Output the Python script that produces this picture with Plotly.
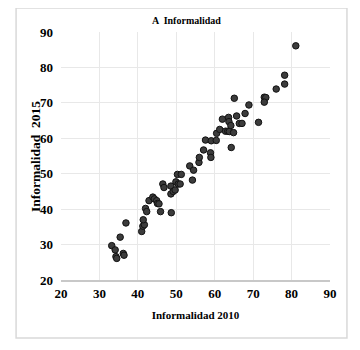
import plotly.graph_objects as go

informalidad_2010 = [
    33.2, 34.1, 34.3, 34.5, 36.2, 36.4, 35.4, 36.9, 41.0, 41.3,
    41.7, 41.4, 42.0, 42.3, 42.9, 43.9, 44.3, 44.9, 45.1, 45.5,
    45.9, 46.5, 46.8, 48.7, 48.6, 48.6, 49.2, 49.7, 49.9, 50.5,
    51.0, 50.3, 51.3, 53.5, 54.5, 54.2, 55.9, 56.0, 57.1, 57.6,
    59.1, 60.4, 58.9, 59.0, 60.5, 61.3, 62.0, 62.8, 63.4, 63.8,
    63.6, 63.7, 64.2, 64.9, 64.3, 65.1, 65.7, 66.4, 67.1, 67.9,
    68.9, 71.4, 72.9, 73.3, 72.9, 76.0, 78.2, 78.2, 81.1,
]
informalidad_2015 = [
    29.7, 28.5, 26.6, 26.1, 27.5, 27.0, 32.1, 36.1, 33.7, 35.2,
    35.6, 37.0, 40.2, 39.3, 42.4, 43.4, 42.9, 42.4, 41.6, 41.5,
    39.3, 47.1, 46.1, 39.0, 44.3, 46.5, 45.0, 45.4, 47.7, 47.1,
    47.1, 49.8, 49.8, 52.2, 51.0, 48.2, 53.2, 54.6, 56.7, 59.5,
    59.3, 59.4, 55.9, 54.6, 61.4, 62.5, 65.4, 62.0, 62.0, 61.9,
    65.9, 64.7, 63.6, 61.6, 57.4, 71.3, 66.3, 64.2, 64.2, 67.0,
    69.4, 64.5, 71.6, 71.5, 70.2, 73.9, 77.8, 75.3, 86.1,
]
tick_values = [20, 30, 40, 50, 60, 70, 80, 90]

title_text = "A  Informalidad"
x_title = "Informalidad 2010"
y_title = "Informalidad  2015"

font_family = "Liberation Serif, Times New Roman, serif"

fig = go.Figure()
fig.add_trace(go.Scatter(
    x=informalidad_2010,
    y=informalidad_2015,
    mode="markers",
    marker=dict(size=6.5, color="#3c3c3c", line=dict(color="#111111", width=1)),
    showlegend=False,
))

annotations = [
    dict(text="<b>" + title_text + "</b>", x=0.468, y=1.048, xref="paper", yref="paper",
         showarrow=False, font=dict(size=10, family=font_family, color="black"),
         xanchor="center", yanchor="middle"),
    dict(text="<b>" + y_title + "</b>", x=-0.097, y=0.5, xref="paper", yref="paper",
         showarrow=False, textangle=-90, font=dict(size=13.5, family=font_family, color="black"),
         xanchor="center", yanchor="middle"),
]
for v in tick_values:
    annotations.append(dict(
        text="<b>%d</b>" % v, x=0, y=v, xref="paper", yref="y",
        showarrow=False, xanchor="right", yanchor="middle", xshift=-6,
        font=dict(size=13, family=font_family, color="black"),
    ))

fig.update_layout(
    width=352,
    height=342,
    margin=dict(l=53, r=30, t=24, b=70),
    paper_bgcolor="white",
    plot_bgcolor="white",
    font=dict(family=font_family, color="black"),
    annotations=annotations,
    shapes=[
        dict(type="rect", xref="paper", yref="paper", x0=-0.167, x1=1.063, y0=-0.234, y1=1.097,
             line=dict(color="#d9d9d9", width=1.5), fillcolor="rgba(0,0,0,0)", layer="below"),
    ],
)

fig.update_xaxes(
    range=[20, 90],
    automargin=False,
    tickvals=tick_values,
    ticktext=["<b>%d</b>" % v for v in tick_values],
    tickfont=dict(size=13, family=font_family, color="black"),
    showgrid=True, gridcolor="#e8e8e8", gridwidth=1,
    showline=True, linecolor="#c8c8c8", linewidth=2,
    zeroline=False, ticks="",
    title=dict(text="<b>" + x_title + "</b>", font=dict(size=11, family=font_family, color="black"), standoff=12),
)
fig.update_yaxes(
    range=[20, 90],
    automargin=False,
    tickvals=tick_values,
    showticklabels=False,
    showgrid=True, gridcolor="#e8e8e8", gridwidth=1,
    showline=False, zeroline=False, ticks="",
)

fig.write_html("out.html")
